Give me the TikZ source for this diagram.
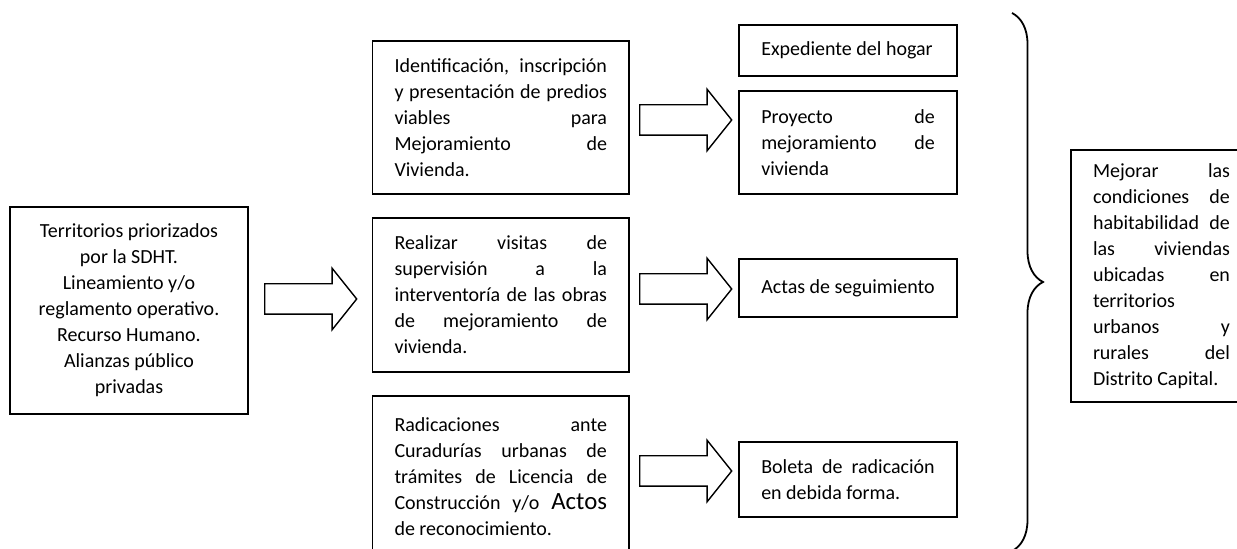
\documentclass[tikz,border=0pt]{standalone}
\usepackage{fontspec}
\setmainfont{Carlito}
\usetikzlibrary{shapes.arrows,decorations.pathreplacing}
\tolerance=10000
\hyphenpenalty=10000

\begin{document}
\begin{tikzpicture}[x=0.5pt,y=-0.5pt,line width=0.9pt,
      caja/.style={draw,rectangle,inner xsep=11pt,inner ysep=3pt,align=justify,
        font=\fontsize{10}{13}\selectfont},
      flecha/.style={single arrow,draw,anchor=tail,line width=0.7pt,minimum height=46pt,
        minimum width=0pt,inner xsep=0pt,inner ysep=7.25pt,
        single arrow head extend=7.75pt,single arrow tip angle=102.7}]
  \clip (0,0) rectangle (1237,549);
			\node[caja,align=center,minimum width=119pt,minimum height=103.5pt] (terr) at (129,310.5)
        {Territorios priorizados\\por la SDHT.\\Lineamiento y/o\\reglamento operativo.\\Recurso Humano.\\Alianzas público\\privadas};
      \node[caja,text width=106.25pt,minimum height=76.5pt] (ident) at (500.75,117.5)
        {Identificación, inscripción\linebreak y presentación de predios\linebreak viables para\linebreak Mejoramiento de\linebreak Vivienda.};
      \node[caja,text width=106.25pt,minimum height=77pt] (visitas) at (500.75,295)
        {Realizar visitas de\linebreak supervisión a la\linebreak interventoría de las obras\linebreak de mejoramiento de\linebreak vivienda.};
      \node[caja,text width=106.25pt,minimum height=81pt] (radic) at (500.75,477)
        {Radicaciones ante\linebreak Curadurías urbanas de\linebreak trámites de Licencia de\linebreak Construcción y/o {\fontsize{12.4}{13}\selectfont Actos}\linebreak de reconocimiento.};
      \node[caja,text width=86.75pt,minimum height=25.5pt] (exped) at (848,50.5)
        {Expediente del hogar};
      \node[caja,text width=86.75pt,minimum height=51.5pt] (proy) at (848,142.5)
        {Proyecto de\linebreak mejoramiento de\linebreak vivienda};
      \node[caja,text width=86.75pt,minimum height=29pt] (actas) at (848,288)
        {Actas de seguimiento};
      \node[caja,text width=86.75pt,minimum height=37.5pt] (boleta) at (848,479.5)
        {Boleta de radicación\linebreak en debida forma.};
      \node[caja,text width=68.5pt,minimum height=126pt] (mejorar) at (1161.5,276)
        {Mejorar las\linebreak condiciones de\linebreak habitabilidad de\linebreak las viviendas\linebreak ubicadas en\linebreak territorios\linebreak urbanos y\linebreak rurales del\linebreak Distrito Capital.};
			\node[flecha] (f0) at (264,299) {};
      \node[flecha] (f1) at (639,120) {};
      \node[flecha] (f2) at (639,289) {};
      \node[flecha] (f3) at (639,471) {};
      \coordinate (llave1) at (1012,13);
      \coordinate (llave2) at (1012,551);
      \draw[decorate,decoration={brace,amplitude=15.5pt}] (llave1) -- (llave2);
		\end{tikzpicture}
\end{document}
